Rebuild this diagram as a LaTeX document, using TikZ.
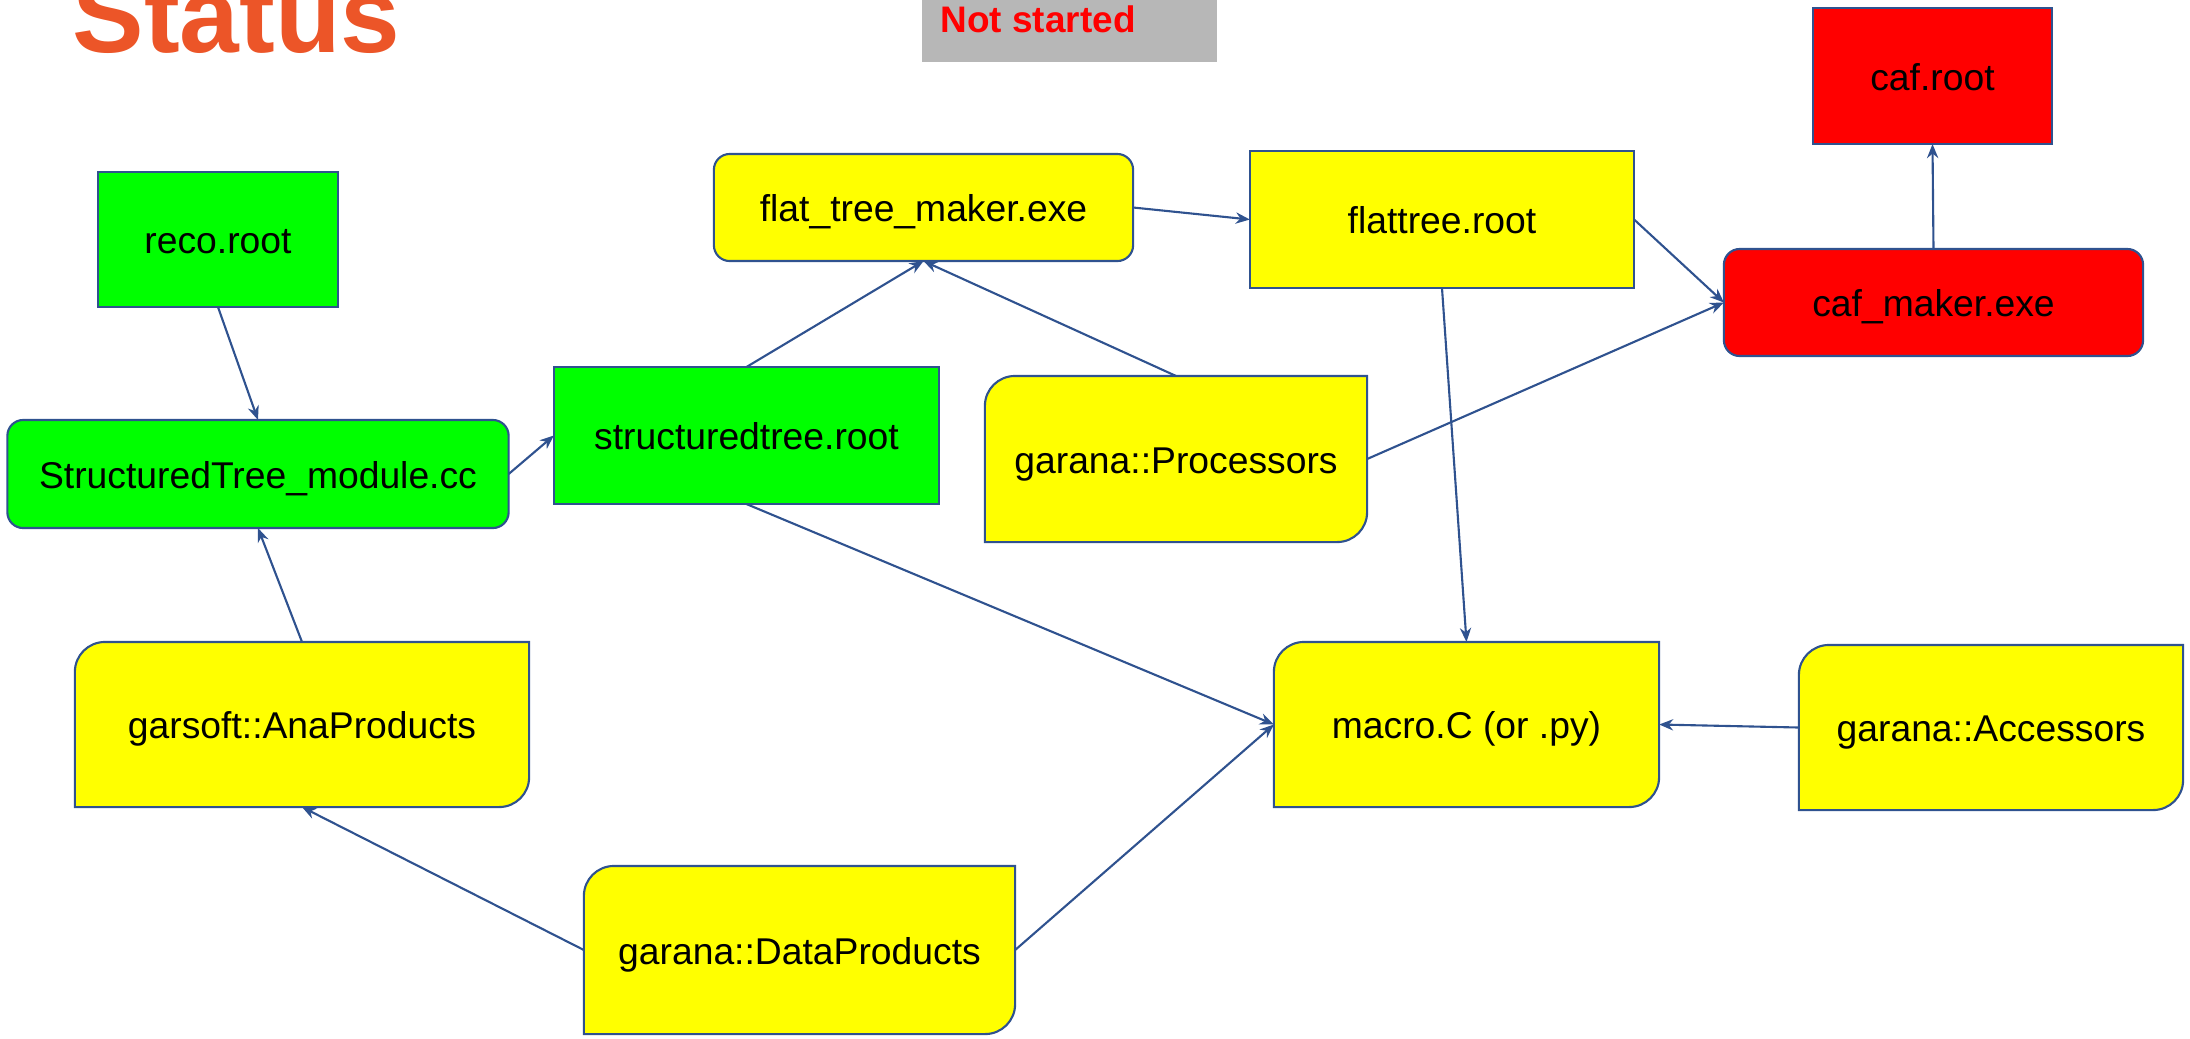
\documentclass[tikz,border=0pt]{standalone}
\usepackage{fontspec}
\setmainfont{Liberation Sans}
\usetikzlibrary{arrows.meta,calc}
\pgfdeclarelayer{bg}
\pgfsetlayers{bg,main}
\definecolor{edgec}{RGB}{47,82,143}
\definecolor{ggreen}{RGB}{0,255,0}
\definecolor{yyellow}{RGB}{255,255,0}
\definecolor{rred}{RGB}{255,0,0}
\definecolor{ttlc}{RGB}{236,85,40}
\definecolor{ggray}{RGB}{183,183,183}
% diagonal-rounded box (top-left and bottom-right corners rounded), drawn behind node #1
\newcommand\diagshape[2]{%
  \begin{pgfonlayer}{bg}
  \filldraw[draw=edgec,line width=0.6pt,fill=#2]
    ($(#1.north west)+(0,30)$) .. controls ($(#1.north west)+(0,13.4)$) and ($(#1.north west)+(13.4,0)$) .. ($(#1.north west)+(30,0)$)
    -- (#1.north east)
    -- ($(#1.south east)+(0,-30)$) .. controls ($(#1.south east)+(0,-13.4)$) and ($(#1.south east)+(-13.4,0)$) .. ($(#1.south east)+(-30,0)$)
    -- (#1.south west) -- cycle;
  \end{pgfonlayer}}
\begin{document}
\begin{tikzpicture}[x=0.01cm,y=-0.01cm,
  box/.style={inner sep=0pt,outer sep=0pt,line width=0.6pt,text=black,
    font=\fontsize{10.6}{12}\selectfont,text height=1.05em,text depth=0.25em},
  sq/.style={box,draw=edgec,rectangle},
  rnd/.style={box,draw=edgec,rounded corners=4.5pt},
  diagn/.style={box},
  conn/.style={draw=edgec,line width=0.6pt,-{Stealth[length=4pt,width=3.2pt]}}]
\useasboundingbox (0,0) rectangle (2190,1038);
\clip (0,0) rectangle (2190,1038);

% title and legend
\node[anchor=base west,font=\fontsize{30.5}{32}\selectfont\bfseries,text=ttlc,inner sep=0pt] (title) at (72,52) {Status};
\fill[ggray] (922,-5) rectangle (1217,62);
\node[anchor=base west,font=\fontsize{10.5}{12}\selectfont\bfseries,text=rred,inner sep=0pt] (legend) at (940,32) {Not started};

% nodes
\node[sq,fill=ggreen,minimum width=2.40cm,minimum height=1.35cm] (reco) at (218,239.5) {reco.root};
\node[rnd,fill=ggreen,minimum width=5.01cm,minimum height=1.08cm] (stmod) at (258,474) {StructuredTree\_module.cc};
\node[sq,fill=ggreen,minimum width=3.85cm,minimum height=1.37cm] (stree) at (746.5,435.5) {structuredtree.root};
\node[rnd,fill=yyellow,minimum width=4.19cm,minimum height=1.07cm] (ftm) at (923.5,207.5) {flat\_tree\_maker.exe};
\node[sq,fill=yyellow,minimum width=3.84cm,minimum height=1.37cm] (flat) at (1442,219.5) {flattree.root};
\node[sq,fill=rred,minimum width=2.39cm,minimum height=1.36cm] (caf) at (1932.5,76) {caf.root};
\node[rnd,fill=rred,minimum width=4.19cm,minimum height=1.07cm] (cafm) at (1933.5,302.5) {caf\_maker.exe};
\node[diagn,minimum width=3.82cm,minimum height=1.66cm] (proc) at (1176,459) {garana::Processors};
\node[diagn,minimum width=4.54cm,minimum height=1.65cm] (ana) at (302,724.5) {garsoft::AnaProducts};
\node[diagn,minimum width=3.85cm,minimum height=1.65cm] (macro) at (1466.5,724.5) {macro.C (or .py)};
\node[diagn,minimum width=3.84cm,minimum height=1.65cm] (acc) at (1991,727.5) {garana::Accessors};
\node[diagn,minimum width=4.31cm,minimum height=1.68cm] (dp) at (799.5,950) {garana::DataProducts};

\diagshape{proc}{yyellow}
\diagshape{ana}{yyellow}
\diagshape{macro}{yyellow}
\diagshape{acc}{yyellow}
\diagshape{dp}{yyellow}

% connectors
\draw[conn] (reco.south) -- (stmod.north);
\draw[conn] (stmod.east) -- (stree.west);
\draw[conn] (stree.north) -- (ftm.south);
\draw[conn] (proc.north) -- (ftm.south);
\draw[conn] (ftm.east) -- (flat.west);
\draw[conn] (flat.east) -- (cafm.west);
\draw[conn] (proc.east) -- (cafm.west);
\draw[conn] (cafm.north) -- (caf.south);
\draw[conn] (flat.south) -- (macro.north);
\draw[conn] (stree.south) -- (macro.west);
\draw[conn] (dp.east) -- (macro.west);
\draw[conn] (acc.west) -- (macro.east);
\draw[conn] (ana.north) -- (stmod.south);
\draw[conn] (dp.west) -- (ana.south);
\end{tikzpicture}
\end{document}
